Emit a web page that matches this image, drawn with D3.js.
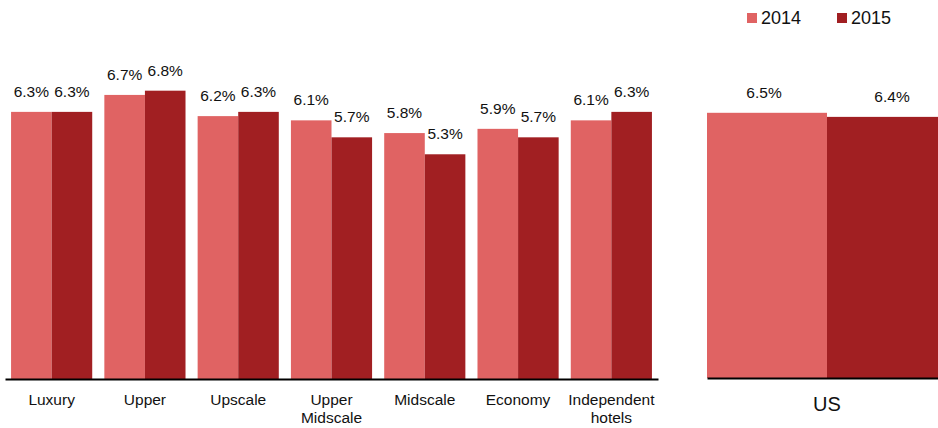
<!DOCTYPE html>
<html>
<head>
<meta charset="utf-8">
<script src="https://cdn.jsdelivr.net/npm/d3@7"></script>
<style>
  body { margin: 0; background: #fff; }
  svg { display: block; font-family: "Liberation Sans", Arial, sans-serif; }
</style>
</head>
<body>
<script>
// chart data
var categories = ["Luxury", "Upper", "Upscale", "Upper Midscale", "Midscale", "Economy", "Independent hotels"];
var years = ["2014", "2015"];
var values2014 = [6.3, 6.7, 6.2, 6.1, 5.8, 5.9, 6.1];
var values2015 = [6.3, 6.8, 6.3, 5.7, 5.3, 5.7, 6.3];
var usCategory = ["US"];
var usValues = [6.5, 6.4];

var colors = { "2014": "#e06363", "2015": "#a11f22" };

var svgWidth = 938;
var svgHeight = 428;

var svg = d3.select("body")
    .append("svg")
    .attr("width", svgWidth)
    .attr("height", svgHeight);

// ---- left panel ----
var leftBase = 379;
var xLeft = d3.scaleBand()
    .domain(categories)
    .range([5, 658])
    .paddingInner(0.13)
    .paddingOuter(0.065);

var xYear = d3.scaleBand()
    .domain(years)
    .range([0, xLeft.bandwidth()]);

var yLeft = d3.scaleLinear()
    .domain([0, 8])
    .range([leftBase, leftBase - 8 * 42.4]);

var leftData = categories.map(function (c, i) {
  return { cat: c, vals: [
    { year: "2014", v: values2014[i] },
    { year: "2015", v: values2015[i] }
  ] };
});

var groups = svg.append("g").selectAll(".grp")
    .data(leftData)
    .enter()
    .append("g")
    .attr("transform", d => `translate(${xLeft(d.cat)},0)`);

groups.selectAll("rect")
    .data(d => d.vals)
    .enter()
    .append("rect")
    .attr("x", d => xYear(d.year))
    .attr("y", d => yLeft(d.v))
    .attr("width", xYear.bandwidth())
    .attr("height", d => leftBase - yLeft(d.v))
    .attr("fill", d => colors[d.year]);

groups.selectAll("text")
    .data(d => d.vals)
    .enter()
    .append("text")
    .attr("x", d => xYear(d.year) + xYear.bandwidth() / 2)
    .attr("y", d => yLeft(d.v) - 15)
    .attr("text-anchor", "middle")
    .attr("font-size", 15.5)
    .attr("fill", "#111")
    .text(d => d.v.toFixed(1) + "%");

var leftAxis = svg.append("g")
    .attr("transform", `translate(0,${leftBase})`)
    .call(d3.axisBottom(xLeft).tickSize(0).tickSizeOuter(0).tickFormat(""));
leftAxis.select(".domain").attr("stroke", "#000").attr("stroke-width", 2);

// category labels, wrapped on spaces
categories.forEach(function (c) {
  var words = c.split(" ");
  var t = svg.append("text")
      .attr("x", xLeft(c) + xLeft.bandwidth() / 2)
      .attr("y", 405)
      .attr("text-anchor", "middle")
      .attr("font-size", 15.5)
      .attr("fill", "#111");
  words.forEach(function (w, i) {
    t.append("tspan")
        .attr("x", xLeft(c) + xLeft.bandwidth() / 2)
        .attr("dy", i === 0 ? 0 : 18)
        .text(w);
  });
});

// ---- right panel ----
var rightBase = 378;
var xRight = d3.scaleBand()
    .domain(years)
    .range([707, 947]);

var yRight = d3.scaleLinear()
    .domain([0, 8])
    .range([rightBase, rightBase - 8 * 40.8]);

var usData = years.map((y, i) => ({ year: y, v: usValues[i] }));

svg.append("g").selectAll("rect")
    .data(usData)
    .enter()
    .append("rect")
    .attr("x", d => xRight(d.year))
    .attr("y", d => yRight(d.v))
    .attr("width", xRight.bandwidth())
    .attr("height", d => rightBase - yRight(d.v))
    .attr("fill", d => colors[d.year]);

svg.append("g").selectAll("text")
    .data(usData)
    .enter()
    .append("text")
    .attr("x", (d, i) => xRight(d.year) + xRight.bandwidth() / 2 + (i === 0 ? -3 : 5))
    .attr("y", d => yRight(d.v) - 15)
    .attr("text-anchor", "middle")
    .attr("font-size", 15.5)
    .attr("fill", "#111")
    .text(d => d.v.toFixed(1) + "%");

var rightAxis = svg.append("g")
    .attr("transform", `translate(0,${rightBase})`)
    .call(d3.axisBottom(xRight).tickSize(0).tickSizeOuter(0).tickFormat(""));
rightAxis.select(".domain").attr("stroke", "#000").attr("stroke-width", 2);

svg.append("text")
    .attr("x", 827)
    .attr("y", 411)
    .attr("text-anchor", "middle")
    .attr("font-size", 20)
    .attr("fill", "#111")
    .text(usCategory[0]);

// ---- legend ----
var legend = svg.append("g").selectAll("g")
    .data(years)
    .enter()
    .append("g")
    .attr("transform", (d, i) => `translate(${747 + i * 90},13)`);

legend.append("rect")
    .attr("width", 10)
    .attr("height", 10)
    .attr("fill", d => colors[d]);

legend.append("text")
    .attr("x", 14)
    .attr("y", 11)
    .attr("font-size", 18)
    .attr("fill", "#111")
    .text(d => d);
</script>
</body>
</html>
